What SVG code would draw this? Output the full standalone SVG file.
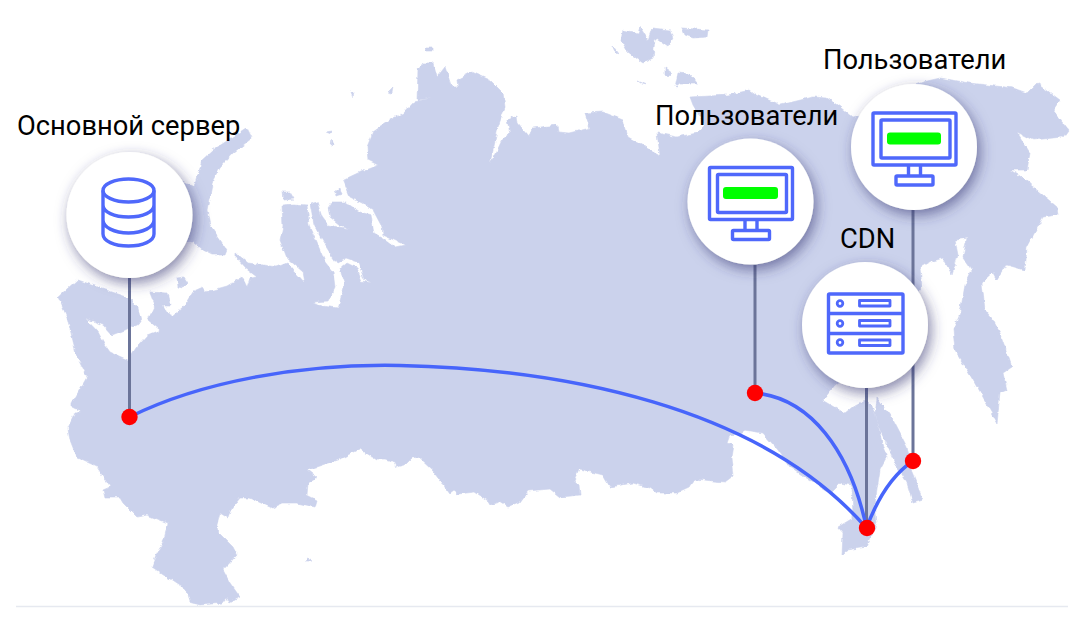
<svg xmlns="http://www.w3.org/2000/svg" width="1086" height="622" viewBox="0 0 1086 622">
<defs>
<filter id="sh" x="-30%" y="-30%" width="170%" height="170%"><feDropShadow dx="3" dy="5" stdDeviation="7" flood-color="#35356f" flood-opacity="0.6"/></filter>
<filter id="rough" x="0" y="0" width="100%" height="100%" filterUnits="objectBoundingBox" color-interpolation-filters="sRGB"><feTurbulence type="fractalNoise" baseFrequency="0.14" numOctaves="3" seed="4" result="n"/><feDisplacementMap in="SourceGraphic" in2="n" scale="4.500" xChannelSelector="R" yChannelSelector="G"/></filter>
</defs>
<style>
.land{fill:#cbd2ec;stroke:#cbd2ec;stroke-width:.6;stroke-linejoin:round}
.stem{stroke:#6b7499;stroke-width:3;fill:none}
.arc{stroke:#4765fb;stroke-width:3.500;fill:none;stroke-linecap:round}
.dot{fill:#ff0000}
.disc{fill:#fff;filter:url(#sh)}
.ic{fill:none;stroke:#4f68fb;stroke-width:3.400;stroke-linejoin:round}
.ic2{fill:none;stroke:#4f68fb;stroke-width:2.800;stroke-linejoin:round}
.scr{fill:#00ff00}
text{font-family:Roboto,"Liberation Sans",sans-serif;font-size:27.300px;fill:#000}
</style>
<rect width="1086" height="622" fill="#fff"/>
<g id="map" filter="url(#rough)">
<rect width="1086" height="622" fill="#fff"/>
<path class="land" d="M58,297 L77,280 L97,287 L127,297 L138,308 L141,322 L125,330 L112,335 L103,325 L85,318 L98,332 L105,345 L110,352 L128,360 L138,345 L147,335 L160,330 L148,320 L155,305 L150,292 L167,293 L170,305 L163,305 L167,313 L173,316 L185,305 L193,292 L202,288 L205,292 L213,290 L227,286 L242,277 L247,287 L250,278 L257,277 L245,268 L236,258 L236,253 L248,263 L277,267 L287,263 L305,283 L303,272 L287,258 L280,240 L283,227 L282,205 L293,204 L307,205 L309,225 L317,243 L325,262 L333,272 L335,287 L328,301 L313,302 L322,306 L338,308 L345,283 L340,269 L347,263 L357,268 L362,281 L372,283 L364,279 L358,262 L346,258 L337,263 L330,253 L322,240 L314,225 L310,204 L317,202 L322,217 L328,225 L350,229 L340,225 L330,217 L328,208 L332,202 L345,202 L360,212 L371,215 L374,233 L383,238 L395,247 L405,245 L383,235 L382,227 L373,210 L362,203 L350,197 L343,180 L360,172 L373,167 L378,165 L368,160 L367,147 L373,132 L390,120 L403,113 L413,102 L432,98 L417,100 L418,70 L423,63 L433,63 L437,77 L445,67 L452,88 L458,88 L457,80 L472,72 L490,80 L503,93 L505,107 L498,127 L490,163 L495,155 L502,140 L510,133 L507,120 L517,115 L518,123 L522,128 L530,137 L533,128 L557,125 L558,132 L570,133 L590,128 L585,113 L603,112 L623,120 L628,137 L660,155 L657,133 L677,137 L697,133 L705,125 L693,105 L690,97 L728,95 L737,93 L750,90 L757,95 L780,105 L813,97 L827,98 L840,107 L853,118 L865,115 L890,95 L923,82 L940,78 L970,83 L1013,88 L1027,93 L1037,83 L1060,100 L1053,110 L1068,130 L1063,137 L1033,140 L1017,132 L1030,153 L1027,170 L1010,170 L1020,176 L1037,190 L1057,207 L1058,215 L1043,217 L1027,247 L1025,270 L1007,265 L997,280 L993,273 L982,283 L985,310 L993,320 L1000,333 L1012,367 L1003,373 L1007,390 L1000,393 L997,423 L973,380 L955,350 L953,330 L960,313 L965,285 L972,270 L963,257 L967,238 L955,240 L958,255 L952,275 L943,258 L930,262 L920,268 L922,287 L890,340 L835,385 L823,400 L835,407 L845,413 L855,405 L865,400 L872,405 L877,420 L883,447 L887,457 L880,470 L875,503 L877,523 L867,547 L847,550 L842,555 L843,533 L838,527 L853,518 L852,485 L840,483 L830,493 L820,487 L790,467 L778,450 L763,433 L745,430 L740,434 L730,435 L727,443 L733,445 L731,457 L733,476 L725,482 L713,481 L695,479 L688,488 L677,493 L657,493 L650,488 L633,483 L610,487 L603,475 L579,469 L574,480 L579,485 L580,495 L560,497 L550,489 L528,491 L520,502 L508,507 L500,502 L490,505 L487,500 L475,492 L458,494 L454,491 L450,494 L432,470 L418,457 L412,458 L405,465 L397,467 L395,463 L385,460 L380,460 L377,460 L360,449 L343,458 L307,470 L317,478 L308,483 L307,495 L317,500 L315,507 L297,503 L283,503 L272,508 L250,498 L240,498 L232,508 L228,518 L220,513 L216,530 L233,547 L237,555 L223,570 L230,583 L240,597 L230,603 L227,598 L223,603 L200,605 L190,602 L187,590 L167,577 L152,567 L157,553 L163,543 L168,523 L147,515 L137,517 L123,503 L120,498 L105,498 L103,490 L110,487 L97,467 L77,458 L70,440 L68,428 L75,413 L82,412 L72,407 L72,403 L87,377 L77,357 L67,317 Z"/>
<path class="land" d="M247,128 L252,138 L233,153 L220,167 L213,180 L207,210 L210,225 L227,250 L225,255 L212,255 L202,250 L193,242 L170,240 L180,180 L195,187 L202,160 L213,150 L233,137 Z"/>
<path class="land" d="M877,398 L893,420 L907,447 L912,473 L923,500 L913,503 L907,483 L897,467 L880,430 L875,413 Z"/>
<path class="land" d="M623,30 L638,33 L640,27 L648,40 L652,28 L670,30 L673,38 L668,47 L655,38 L653,58 L643,63 L628,52 L621,40 Z"/>
<path class="land" d="M682,28 L708,30 L707,37 L693,38 L685,35 Z"/>
<path class="land" d="M612,45 L620,55 L616,54 Z"/>
<path class="land" d="M665,68 L672,73 L668,77 L665,74 Z"/>
<path class="land" d="M678,73 L690,74 L697,83 L680,83 L675,87 Z"/>
<path class="land" d="M638,81 L647,85 L642,84 Z"/>
<path class="land" d="M283,192 L290,192 L294,199 L284,200 Z"/>
<path class="land" d="M177,278 L184,277 L188,283 L183,288 L178,287 Z"/>
<path class="land" d="M335,192 L340,188 L342,195 L336,197 Z"/>
<path class="land" d="M425,48 L433,48 L433,51 L426,51 Z"/>
<path class="land" d="M388,92 L393,87 L392,93 Z"/>
<path class="land" d="M351,92 L354,93 L353,97 Z"/>
<path class="land" d="M326,132 L332,131 L331,134 Z"/>
<path class="land" d="M331,140 L333,145 L330,146 Z"/>
<path class="land" d="M305,561 L312,561 L308,559 Z"/>
</g>
<g id="connectors">
<path class="stem" d="M129.500,278V417"/>
<path class="stem" d="M755,265V393"/>
<path class="stem" d="M866.500,388V528"/>
<path class="stem" d="M913,210V461"/>
<path class="arc" d="M129.500,417C200,382 300,363.500 400,365.500C560,369 759,405 866.500,528"/>
<path class="arc" d="M755,393C810,398 850,450 866.500,528"/>
<path class="arc" d="M913,461C892,475 878,497 866.500,528"/>
<circle class="dot" cx="129.500" cy="417" r="8.200"/>
<circle class="dot" cx="755" cy="393" r="8.200"/>
<circle class="dot" cx="913" cy="461" r="8.200"/>
<circle class="dot" cx="867" cy="528" r="8.200"/>
</g>
<g id="server">
<circle class="disc" cx="129.500" cy="215" r="63"/>
<ellipse class="ic" cx="128.500" cy="190.500" rx="25.500" ry="11.500"/>
<path class="ic" d="M103,190.500V234C103,241 114,246 128.500,246S154,241 154,234V190.500M103,205C103,212 114,217 128.500,217S154,212 154,205M103,220C103,227 114,233 128.500,233S154,227 154,220"/>
<text x="17" y="135">Основной сервер</text>
</g>
<g id="users-1">
<circle class="disc" cx="750.500" cy="201.500" r="63"/>
<rect class="ic" x="709.500" y="167.500" width="83" height="52" rx="1"/>
<rect class="ic" x="717.500" y="174.500" width="69" height="38" rx="1"/>
<rect class="scr" x="723" y="187" width="55" height="12" rx="3"/>
<path class="ic" d="M745,220V230M757,220V230"/>
<rect class="ic" x="732.500" y="230.500" width="37" height="9" rx="1"/>
<text x="655" y="125">Пользователи</text>
</g>
<g id="users-2">
<circle class="disc" cx="914" cy="147" r="63"/>
<rect class="ic" x="873" y="113" width="83" height="52" rx="1"/>
<rect class="ic" x="881" y="120" width="69" height="38" rx="1"/>
<rect class="scr" x="887" y="132.500" width="54" height="12" rx="3"/>
<path class="ic" d="M908.500,165.500V175.500M920.500,165.500V175.500"/>
<rect class="ic" x="896" y="176" width="37" height="9" rx="1"/>
<text x="823" y="69">Пользователи</text>
</g>
<g id="cdn">
<circle class="disc" cx="865" cy="325" r="63"/>
<rect class="ic" x="828.500" y="294" width="74.500" height="59" rx="1"/>
<path class="ic" d="M828.500,313.500H903M828.500,333.500H903"/>
<circle class="ic2" cx="840" cy="303.500" r="2.800"/>
<circle class="ic2" cx="840" cy="323.500" r="2.800"/>
<circle class="ic2" cx="840" cy="342.500" r="2.800"/>
<rect class="ic2" x="859.500" y="300.500" width="30.500" height="5.500"/>
<rect class="ic2" x="859.500" y="320.500" width="30.500" height="5.500"/>
<rect class="ic2" x="859.500" y="340" width="30.500" height="5.500"/>
<text x="840" y="248">CDN</text>
</g>
<path id="baseline" d="M16,606.500H1068" stroke="#e6e9f0" stroke-width="1.500" fill="none"/>
</svg>
